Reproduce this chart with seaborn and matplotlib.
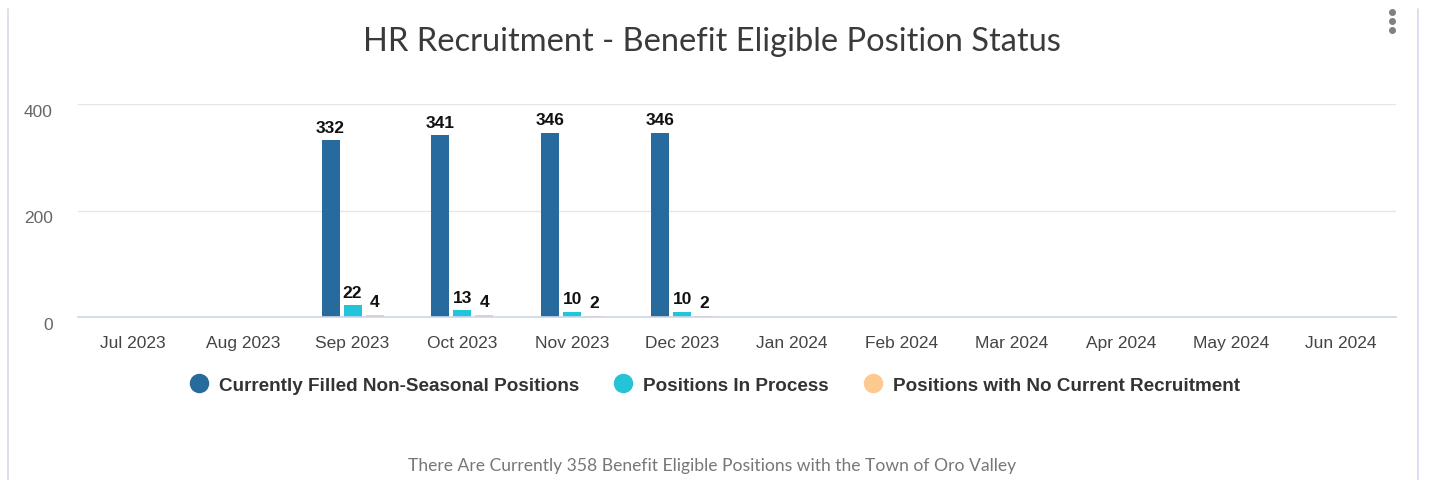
import matplotlib
matplotlib.use("Agg")
import matplotlib.pyplot as plt
from matplotlib.lines import Line2D
import numpy as np
import pandas as pd
import seaborn as sns

months = ["Jul 2023", "Aug 2023", "Sep 2023", "Oct 2023", "Nov 2023", "Dec 2023",
          "Jan 2024", "Feb 2024", "Mar 2024", "Apr 2024", "May 2024", "Jun 2024"]
series = ["Currently Filled Non-Seasonal Positions", "Positions In Process",
          "Positions with No Current Recruitment"]
filled = [np.nan, np.nan, 332, 341, 346, 346, np.nan, np.nan, np.nan, np.nan, np.nan, np.nan]
in_process = [np.nan, np.nan, 22, 13, 10, 10, np.nan, np.nan, np.nan, np.nan, np.nan, np.nan]
no_recruit = [np.nan, np.nan, 4, 4, 2, 2, np.nan, np.nan, np.nan, np.nan, np.nan, np.nan]
colors = ["#266a9e", "#22c4da", "#fdc98f"]
yticks = [0, 200, 400]

title = "HR Recruitment - Benefit Eligible Position Status"
footer = "There Are Currently 358 Benefit Eligible Positions with the Town of Oro Valley"

rows = []
for name, vals in zip(series, [filled, in_process, no_recruit]):
    for m, v in zip(months, vals):
        rows.append({"month": m, "series": name, "value": v})
df = pd.DataFrame(rows).dropna()

sns.set_theme(style="white")
plt.rcParams["font.family"] = ["Liberation Sans", "DejaVu Sans"]

W, H = 1429, 481
fig = plt.figure(figsize=(W / 100, H / 100), dpi=100)
fig.patch.set_facecolor("white")
ax = fig.add_axes([78 / W, 1 - 318 / H, (1396 - 78) / W, (318 - 105) / H])

sns.barplot(data=df, x="month", y="value", hue="series", order=months,
            hue_order=series, palette=colors, width=0.6, gap=0.18,
            saturation=1, legend=False, ax=ax, linewidth=0)

for cont in ax.containers:
    ax.bar_label(cont, fmt="%d", padding=4, fontsize=12.5, fontweight="bold",
                 color="#111111")

ax.set_xlim(-0.5, len(months) - 0.5)
ax.set_ylim(0, 400)
ax.set_yticks(yticks)
ax.set_yticklabels([str(t) for t in yticks])
ax.set_xlabel("")
ax.set_ylabel("")
for s in ["top", "right", "left"]:
    ax.spines[s].set_visible(False)
ax.spines["bottom"].set_color("#ccd6eb")
ax.spines["bottom"].set_linewidth(1.2)
ax.grid(axis="y", color="#e6e6e6", linewidth=1)
ax.set_axisbelow(True)
ax.tick_params(axis="x", length=0, pad=13, labelsize=12.5, labelcolor="#444444")
ax.tick_params(axis="y", length=0, pad=18, labelsize=12.5, labelcolor="#666666")
for lbl in ax.get_yticklabels():
    lbl.set_verticalalignment("top")

# title, footer and the chart frame
fig.text(0.4985, 1 - 42 / H, title, ha="center", va="center", fontsize=23.5,
         color="#3a3a3a", family=["Lato", "DejaVu Sans"])
fig.text(0.4985, 1 - 466 / H, footer, ha="center", va="center", fontsize=12.6,
         color="#777777", family=["Lato", "DejaVu Sans"])
fig.add_artist(Line2D([8 / W, 8 / W], [0, 1 - 10 / H], color="#d8d8ee", lw=1.2))
fig.add_artist(Line2D([1418 / W, 1418 / W], [0, 1 - 10 / H], color="#d8d8ee", lw=1.2))
for yy in (13, 22, 31):
    fig.add_artist(Line2D([1392 / W], [1 - yy / H], marker="o", markersize=4,
                          color="#808080", linestyle="none"))

handles = [Line2D([0], [0], marker="o", linestyle="none", markersize=13,
                  markerfacecolor=c, markeredgecolor=c) for c in colors]
leg = fig.legend(handles, series, loc="center", bbox_to_anchor=(0.4995, 1 - 386 / H),
                 ncol=3, frameon=False, fontsize=13.6, handletextpad=0.45,
                 columnspacing=1.75, handlelength=1.2)
for t in leg.get_texts():
    t.set_color("#333333")
    t.set_fontweight("bold")

fig.savefig("out.png", dpi=100, facecolor="white")
